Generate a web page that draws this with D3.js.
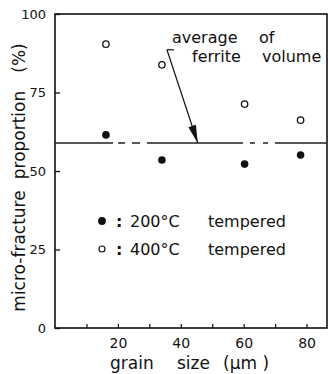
<!DOCTYPE html>
<html>
<head>
<meta charset="utf-8">
<script src="https://cdn.jsdelivr.net/npm/d3@7"></script>
<style>
  body { margin: 0; background: #fff; }
  svg text { font-family: "DejaVu Sans", sans-serif; fill: #111; }
</style>
</head>
<body>
<div id="chart"></div>
<script>
// data
const grainSize = [16.2, 34.0, 60.3, 78.1];          // µm
const temp200 = [61.5, 53.5, 52.2, 55.1];             // %  (filled)
const temp400 = [90.4, 83.8, 71.3, 66.2];             // %  (open)
const ferriteAvg = 58.9;
const yTicks = [0, 25, 50, 75, 100];
const xMinorTicks = [10, 20, 30, 40, 50, 60, 70, 80];
const xLabels = [20, 40, 60, 80];
const arrowTail = [35.6, 88.6];
const arrowTip = [45.4, ferriteAvg];

const width = 328, height = 374;
const margin = { top: 14, right: 1, bottom: 46, left: 55 };
const w = width - margin.left - margin.right;
const h = height - margin.top - margin.bottom;

const svg = d3.select('#chart').append('svg')
  .attr('width', width)
  .attr('height', height);

svg.append('defs').append('marker')
  .attr('id', 'arrow')
  .attr('viewBox', '0 0 18 8')
  .attr('refX', 18).attr('refY', 4)
  .attr('markerWidth', 18).attr('markerHeight', 8)
  .attr('markerUnits', 'userSpaceOnUse')
  .attr('orient', 'auto')
  .append('path')
  .attr('d', 'M0,0 L18,4 L0,8 Z')
  .attr('fill', '#111');

const g = svg.append('g').attr('transform', `translate(${margin.left},${margin.top})`);

const x = d3.scaleLinear().domain([0, 86.5]).range([0, w]);
const y = d3.scaleLinear().domain([0, 100]).range([h, 0]);

// frame
g.append('rect')
  .attr('width', w).attr('height', h)
  .attr('fill', 'none').attr('stroke', '#111').attr('stroke-width', 1.6);

// y axis, ticks inside
const yAxis = g.append('g').call(d3.axisLeft(y).tickValues(yTicks).tickSize(-5).tickPadding(9));
yAxis.select('.domain').remove();
yAxis.selectAll('line').attr('stroke', '#111').attr('stroke-width', 1.3);
yAxis.selectAll('text').style('font-size', '13px');

// x axis, ticks inside
const xAxis = g.append('g').attr('transform', `translate(0,${h})`)
  .call(d3.axisBottom(x).tickValues(xMinorTicks).tickSize(-4).tickPadding(10)
    .tickFormat(d => xLabels.includes(d) ? d : ''));
xAxis.select('.domain').remove();
xAxis.selectAll('line').attr('stroke', '#111').attr('stroke-width', 1.2);
xAxis.selectAll('text').style('font-size', '14px');

// average ferrite volume line
g.append('line')
  .attr('x1', x(0)).attr('x2', x(86.5))
  .attr('y1', y(ferriteAvg)).attr('y2', y(ferriteAvg))
  .attr('stroke', '#222').attr('stroke-width', 1.4)
  .attr('stroke-dasharray', '58,5,7,7,8,7,96,7,5,8,5,7,52');

// annotation arrow
const tx = x(arrowTail[0]), ty = y(arrowTail[1]);
g.append('line')
  .attr('x1', tx).attr('y1', ty).attr('x2', tx + 7).attr('y2', ty)
  .attr('stroke', '#111').attr('stroke-width', 1.2);
g.append('line')
  .attr('x1', tx).attr('y1', ty)
  .attr('x2', x(arrowTip[0])).attr('y2', y(arrowTip[1]))
  .attr('stroke', '#111').attr('stroke-width', 1.2)
  .attr('marker-end', 'url(#arrow)');

// annotation text
const note = [
  { t: 'average', x: 172, y: 43 },
  { t: 'of', x: 259, y: 43 },
  { t: 'ferrite', x: 192, y: 62 },
  { t: 'volume', x: 262, y: 62 }
];
svg.selectAll('.note').data(note).enter().append('text')
  .attr('class', 'note')
  .attr('x', d => d.x).attr('y', d => d.y)
  .style('font-size', '16px')
  .text(d => d.t);

// points
g.selectAll('.p400').data(grainSize).enter().append('circle')
  .attr('cx', d => x(d)).attr('cy', (d, i) => y(temp400[i]))
  .attr('r', 3.2).attr('fill', '#fff').attr('stroke', '#111').attr('stroke-width', 1.3);
g.selectAll('.p200').data(grainSize).enter().append('circle')
  .attr('cx', d => x(d)).attr('cy', (d, i) => y(temp200[i]))
  .attr('r', 3.8).attr('fill', '#111');

// legend
const legend = [
  { label: '200°C', filled: true, y: 227 },
  { label: '400°C', filled: false, y: 255 }
];
const lg = svg.selectAll('.lg').data(legend).enter().append('g').attr('class', 'lg');
lg.append('circle')
  .attr('cx', 102).attr('cy', d => d.y - 6)
  .attr('r', d => d.filled ? 3.9 : 3)
  .attr('fill', d => d.filled ? '#111' : '#fff')
  .attr('stroke', '#111').attr('stroke-width', d => d.filled ? 0 : 1.2);
lg.append('text').attr('x', 116).attr('y', d => d.y).style('font-size', '16px').style('font-weight', 'bold').text(':');
lg.append('text').attr('x', 130).attr('y', d => d.y).style('font-size', '16px').text(d => d.label);
lg.append('text').attr('x', 208).attr('y', d => d.y).style('font-size', '16px').text('tempered');

// axis titles
const xt = [
  { t: 'grain', x: 110 },
  { t: 'size', x: 177 },
  { t: '(μm )', x: 223 }
];
svg.selectAll('.xt').data(xt).enter().append('text')
  .attr('x', d => d.x).attr('y', 369)
  .style('font-size', '17px')
  .text(d => d.t);

const yt = [
  { t: 'micro-fracture', y: 251 },
  { t: 'proportion', y: 135 },
  { t: '(%)', y: 58 }
];
svg.selectAll('.yt').data(yt).enter().append('text')
  .attr('transform', d => `translate(25,${d.y}) rotate(-90)`)
  .attr('text-anchor', 'middle')
  .style('font-size', '17px')
  .text(d => d.t);
</script>
</body>
</html>
